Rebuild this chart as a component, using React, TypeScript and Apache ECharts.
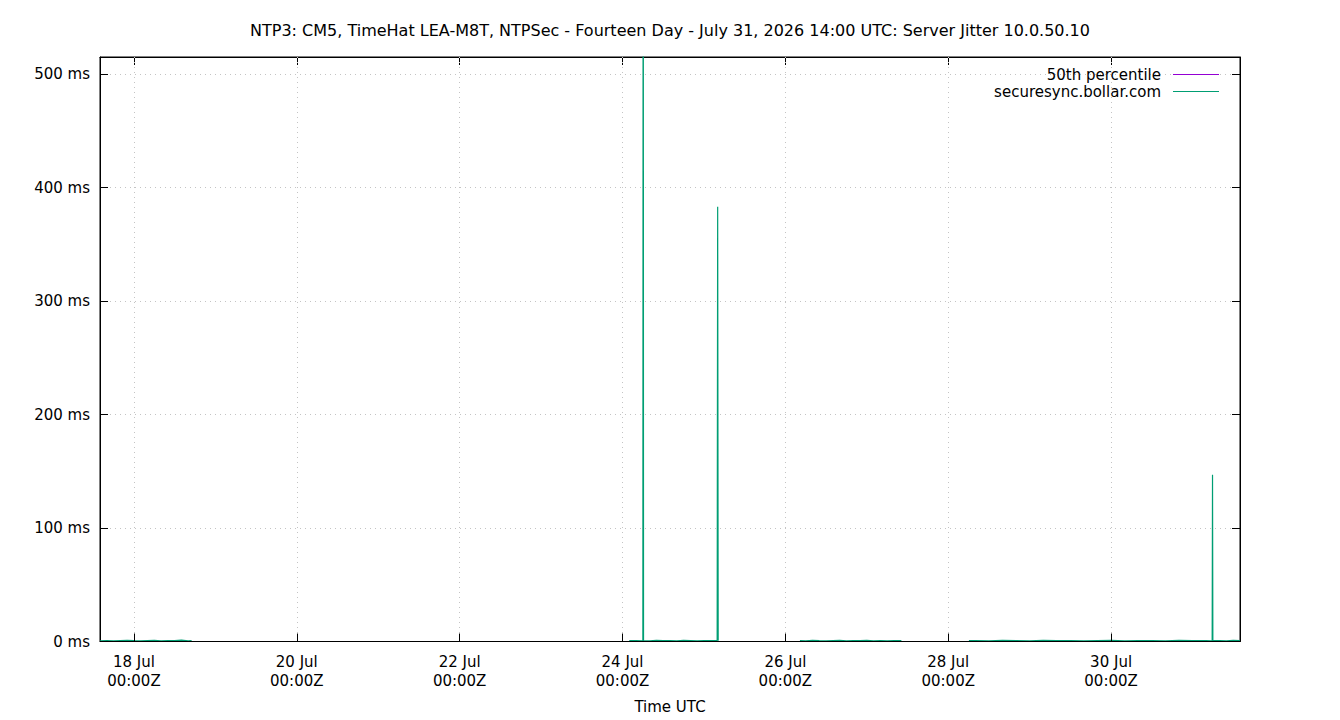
import { useEffect, useRef } from 'react';
import * as echarts from 'echarts';

// x values are hours relative to 18 Jul 00:00Z; the window runs 17 Jul 14:00Z .. 31 Jul 14:00Z
const X_MIN = -10;
const X_MAX = 326;

const xTickHours = [0, 48, 96, 144, 192, 240, 288];
const xTickLabels = [
  '18 Jul\n00:00Z',
  '20 Jul\n00:00Z',
  '22 Jul\n00:00Z',
  '24 Jul\n00:00Z',
  '26 Jul\n00:00Z',
  '28 Jul\n00:00Z',
  '30 Jul\n00:00Z'
];

const yTicks = [0, 100, 200, 300, 400, 500];
const yTickLabels = ['0 ms', '100 ms', '200 ms', '300 ms', '400 ms', '500 ms'];

// securesync.bollar.com jitter (ms); null marks a gap in the log
const jitterHours = [
  -10, -8, -6, -4, -2, 0, 2, 4, 6, 8, 10, 12, 14, 16, 17,
  17.5,
  146, 148, 150, 150.1, 150.2, 152, 154, 156, 158, 160, 162, 164, 166, 168, 170, 171.9, 172.05, 172.2,
  172.5,
  196.3, 198, 200, 202, 204, 206, 208, 210, 212, 214, 216, 218, 220, 222, 224, 226.2,
  226.5,
  246.1, 248, 252, 256, 260, 264, 268, 272, 276, 280, 284, 288, 292, 296, 300, 304, 308, 312, 316,
  317.8, 317.9, 318.0, 320, 322, 324, 326
];
const jitterMs = [
  0.6, 0.9, 0.5, 0.8, 1.1, 0.7, 0.6, 0.9, 1.0, 0.5, 0.8, 0.7, 1.2, 0.6, 0.8,
  null,
  0.7, 0.9, 0.6, 900, 0.8, 0.5, 1.0, 0.7, 0.9, 0.6, 1.1, 0.8, 0.5, 0.9, 0.7, 0.8, 383, 0.6,
  null,
  0.8, 0.6, 1.0, 0.7, 0.5, 0.9, 1.1, 0.6, 0.8, 0.7, 1.0, 0.5, 0.9, 0.6, 0.8, 0.7,
  null,
  0.7, 0.9, 0.6, 1.0, 0.8, 0.5, 1.1, 0.7, 0.9, 0.6, 0.8, 1.0, 0.5, 0.7, 0.9, 0.6, 1.1, 0.8, 0.7,
  0.6, 147, 0.8, 0.9, 0.6, 1.0, 0.7
];

// 50th percentile sits at the floor, under the axis line
const percentileHours = [-10, 326];
const percentileMs = [0, 0];

const TITLE =
  'NTP3: CM5, TimeHat LEA-M8T, NTPSec - Fourteen Day - July 31, 2026 14:00 UTC: Server Jitter 10.0.50.10';

const FONT = 'DejaVu Sans';

export default function App() {
  const chartRef = useRef<HTMLDivElement>(null);

  useEffect(() => {
    if (!chartRef.current) return;
    const chart = echarts.init(chartRef.current, null, { renderer: 'svg' });

    const jitterData = jitterHours.map((h, i) => [h, jitterMs[i]]);
    const percentileData = percentileHours.map((h, i) => [h, percentileMs[i]]);

    const gridLine = { show: true, lineStyle: { color: '#c4c4c4', width: 1, type: [1, 4] as number[] } };
    const legendText = { fontFamily: FONT, fontSize: 15, color: '#000', padding: [0, 7, 0, 0] };
    const legendBase = {
      right: 116,
      orient: 'vertical' as const,
      align: 'right' as const,
      icon: 'rect',
      itemWidth: 46,
      itemHeight: 1,
      textStyle: legendText,
      selectedMode: false
    };

    const option: echarts.EChartsOption = {
      animation: false,
      backgroundColor: '#fff',
      textStyle: { fontFamily: FONT },
      title: {
        text: TITLE,
        left: 'center',
        top: 17,
        textStyle: { fontFamily: FONT, fontSize: 16, fontWeight: 'normal', color: '#000' }
      },
      legend: [
        { ...legendBase, data: ['50th percentile'], top: 62 },
        { ...legendBase, data: ['securesync.bollar.com'], top: 79 }
      ],
      grid: {
        left: 100,
        right: 100,
        top: 57,
        bottom: 78.5,
        show: true,
        borderColor: '#000',
        borderWidth: 1,
        backgroundColor: 'transparent'
      },
      xAxis: [
        {
          type: 'value',
          min: X_MIN,
          max: X_MAX,
          position: 'bottom',
          z: 5,
          name: 'Time UTC',
          nameLocation: 'middle',
          nameGap: 58,
          nameTextStyle: { fontFamily: FONT, fontSize: 15, color: '#000' },
          axisLine: { show: true, onZero: false, lineStyle: { color: '#000', width: 1 } },
          axisTick: { show: true, inside: true, length: 8, customValues: xTickHours, lineStyle: { color: '#000' } },
          axisLabel: {
            customValues: xTickHours,
            margin: 11,
            fontFamily: FONT,
            fontSize: 15,
            lineHeight: 19,
            color: '#000',
            formatter: (v: number) => xTickLabels[xTickHours.indexOf(v)] ?? ''
          },
          splitLine: gridLine
        },
        {
          type: 'value',
          min: X_MIN,
          max: X_MAX,
          position: 'top',
          axisLine: { show: true, onZero: false, lineStyle: { color: '#000', width: 1 } },
          axisTick: { show: true, inside: true, length: 8, customValues: xTickHours, lineStyle: { color: '#000' } },
          axisLabel: { show: false },
          splitLine: { show: false }
        }
      ],
      yAxis: [
        {
          type: 'value',
          min: 0,
          max: 515,
          position: 'left',
          axisLine: { show: true, onZero: false, lineStyle: { color: '#000', width: 1 } },
          axisTick: { show: true, inside: true, length: 8, customValues: yTicks, lineStyle: { color: '#000' } },
          axisLabel: {
            customValues: yTicks,
            margin: 10,
            fontFamily: FONT,
            fontSize: 15,
            color: '#000',
            formatter: (v: number) => yTickLabels[yTicks.indexOf(v)] ?? ''
          },
          splitLine: gridLine
        },
        {
          type: 'value',
          min: 0,
          max: 515,
          position: 'right',
          axisLine: { show: true, onZero: false, lineStyle: { color: '#000', width: 1 } },
          axisTick: { show: true, inside: true, length: 8, customValues: yTicks, lineStyle: { color: '#000' } },
          axisLabel: { show: false },
          splitLine: { show: false }
        }
      ],
      series: [
        {
          name: '50th percentile',
          type: 'line',
          z: 0,
          data: percentileData,
          symbol: 'none',
          color: '#9400d3',
          lineStyle: { color: '#9400d3', width: 1 }
        },
        {
          name: 'securesync.bollar.com',
          type: 'line',
          z: 2,
          data: jitterData,
          symbol: 'none',
          connectNulls: false,
          color: '#009e73',
          lineStyle: { color: '#009e73', width: 1.2 }
        }
      ]
    };

    chart.setOption(option);

    return () => {
      chart.dispose();
    };
  }, []);

  return (
    <div
      ref={chartRef}
      style={{ position: 'fixed', left: 0, top: 0, width: 1340, height: 720, background: '#fff' }}
    />
  );
}
